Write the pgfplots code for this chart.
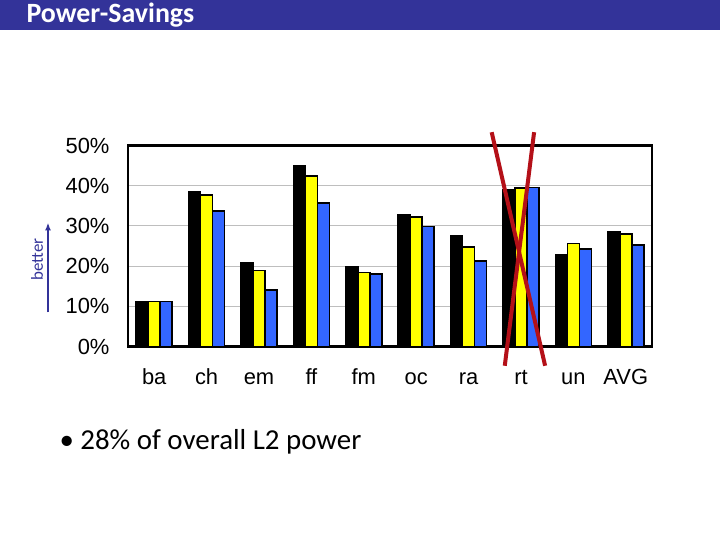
\documentclass[border=0pt]{standalone}
\usepackage{pgfplots}
\pgfplotsset{compat=1.18}
\usetikzlibrary{arrows.meta}
\usepackage{fontspec}
\setmainfont{Carlito}
\newfontfamily\arial{Liberation Sans}
\definecolor{slideblue}{RGB}{51,51,153}
\definecolor{baryellow}{RGB}{255,255,0}
\definecolor{barblue}{RGB}{51,102,255}
\definecolor{crossred}{RGB}{180,16,24}
\definecolor{gridgray}{RGB}{190,190,190}

\begin{document}
\begin{tikzpicture}[x=1bp,y=1bp]
	% slide background and title bar
	\fill[white] (0,0) rectangle (720,540);
	\fill[slideblue] (0,510) rectangle (720,540);
	\node[anchor=west, text=white, font=\bfseries\fontsize{28}{32}\selectfont] at (23,525) {Power-Savings};

	% "better" marker
	\draw[slideblue, line width=2.5bp, -{Latex[length=8bp,width=6bp]}] (48,228) -- (48,318);
	\node[rotate=90, text=slideblue, font=\fontsize{17}{20}\selectfont] at (37,281) {better};

	\begin{axis}[
			at={(128bp,194bp)}, anchor=south west,
			scale only axis,
			width=524bp, height=201bp,
			ybar=0pt, bar width=12bp,
			xmin=-0.5, xmax=9.5,
			ymin=0, ymax=50,
			xtick=data,
			xticklabels={ba,ch,em,ff,fm,oc,ra,rt,un,AVG},
			ytick={0,10,20,30,40,50},
			yticklabel={\pgfmathprintnumber{\tick}\%},
			/pgf/number format/assume math mode=true,
			tick label style={font=\arial\fontsize{22}{25}\selectfont},
			xticklabel style={text height=16bp, text depth=0bp, yshift=-19bp},
			yticklabel style={xshift=-15bp},
			major tick length=0pt,
			ymajorgrids,
			grid style={gridgray, line width=1bp},
			axis line style={black, line width=2.8bp},
			clip=false,
		]

		\addplot [fill=black, draw=black, line width=1.5bp] coordinates {
			(0,11.2) (1,38.6) (2,20.9) (3,44.9) (4,19.9)
			(5,32.8) (6,27.6) (7,39.0) (8,22.8) (9,28.6)
		};
		\addplot [fill=baryellow, draw=black, line width=1.5bp] coordinates {
			(0,11.2) (1,37.7) (2,18.9) (3,42.4) (4,18.4)
			(5,32.2) (6,24.7) (7,39.4) (8,25.6) (9,28.0)
		};
		\addplot [fill=barblue, draw=black, line width=1.5bp] coordinates {
			(0,11.2) (1,33.7) (2,14.1) (3,35.7) (4,18.0)
			(5,29.9) (6,21.3) (7,39.5) (8,24.2) (9,25.2)
		};

		% crossed-out benchmark
		\draw[crossred, line width=4bp] (axis cs:6.44,53.3) -- (axis cs:7.46,-4.8);
		\draw[crossred, line width=4bp] (axis cs:7.25,53.3) -- (axis cs:6.69,-4.8);
	\end{axis}

	% bullet text
	\node[anchor=west, font=\fontsize{29}{33}\selectfont] at (56,99) {\textbullet\ 28\% of overall L2 power};
\end{tikzpicture}
\end{document}
